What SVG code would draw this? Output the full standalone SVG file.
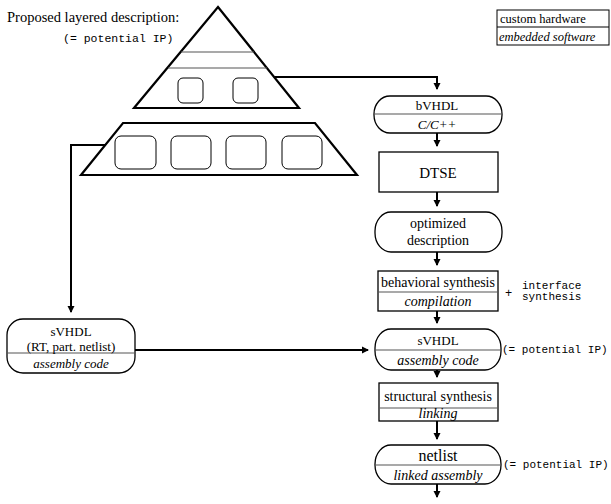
<svg xmlns="http://www.w3.org/2000/svg" width="611" height="504" viewBox="0 0 611 504">
<style>
  .bg{fill:#fff}
  .box{fill:#fff;stroke:#000;stroke-width:1.3}
  .thick{fill:#fff;stroke:#000;stroke-width:2.2;stroke-linejoin:miter}
  .div{stroke:#555;stroke-width:1.2;fill:none}
  .small{fill:#fff;stroke:#000;stroke-width:1}
  .con{fill:none;stroke:#000;stroke-width:2}
  .t{font-family:"Liberation Serif","Times New Roman",serif;font-size:14px;fill:#000;text-anchor:middle}
  .i{font-style:italic}
  .m{font-family:"Liberation Mono","Courier New",monospace;font-size:11px;fill:#000}
</style>
<defs>
  <marker id="ah" markerWidth="8" markerHeight="8" refX="6" refY="4" orient="auto" markerUnits="userSpaceOnUse">
    <path d="M0,0.5 L7,4 L0,7.5 z" fill="#000"/>
  </marker>
</defs>
<rect class="bg" x="0" y="0" width="611" height="504"/>

<g id="title">
  <text x="7" y="22" style="font-family:'Liberation Serif','Times New Roman',serif;font-size:14.5px">Proposed layered description:</text>
  <text class="m" x="63" y="42" style="font-size:11.5px">(= potential IP)</text>
</g>

<g id="legend">
  <rect class="box" x="497" y="10" width="112" height="35" style="stroke-width:1"/>
  <line class="div" x1="497" y1="27" x2="609" y2="27" style="stroke:#000;stroke-width:1"/>
  <text class="t" x="500" y="23" style="text-anchor:start;font-size:12.5px">custom hardware</text>
  <text class="t i" x="499" y="41" style="text-anchor:start;font-size:12.5px">embedded software</text>
</g>

<g id="connectors">
  <polyline class="con" points="275,77 437,77 437,89" marker-end="url(#ah)"/>
  <polyline class="con" points="105,145 71,145 71,312" marker-end="url(#ah)"/>
  <polyline class="con" points="135,350 368,350" marker-end="url(#ah)"/>
  <line class="con" x1="437" y1="133" x2="437" y2="146" marker-end="url(#ah)"/>
  <line class="con" x1="437" y1="192" x2="437" y2="206" marker-end="url(#ah)"/>
  <line class="con" x1="437" y1="252" x2="437" y2="265" marker-end="url(#ah)"/>
  <line class="con" x1="437" y1="311" x2="437" y2="323" marker-end="url(#ah)"/>
  <line class="con" x1="437" y1="370" x2="437" y2="377" marker-end="url(#ah)"/>
  <line class="con" x1="437" y1="421" x2="437" y2="439" marker-end="url(#ah)"/>
  <line class="con" x1="437" y1="484" x2="437" y2="497" marker-end="url(#ah)"/>
</g>

<g id="pyramid">
  <polygon class="thick" points="218,7 299,108 134,108"/>
  <line class="div" x1="181" y1="52" x2="254" y2="52"/>
  <line class="div" x1="168" y1="68" x2="267" y2="68"/>
  <rect class="small" x="178" y="78" width="25" height="25" rx="5"/>
  <rect class="small" x="233" y="78" width="25" height="25" rx="5"/>
</g>

<g id="trapezoid">
  <polygon class="thick" points="123,123 315,123 357,175 81,175"/>
  <rect class="small" x="115" y="136" width="41" height="33" rx="6"/>
  <rect class="small" x="171" y="136" width="40" height="33" rx="6"/>
  <rect class="small" x="226" y="136" width="40" height="33" rx="6"/>
  <rect class="small" x="282" y="136" width="40" height="33" rx="6"/>
</g>

<g id="sVHDL-left">
  <rect class="box" x="7" y="319" width="128" height="54" rx="16" ry="16"/>
  <line class="div" x1="7" y1="353" x2="135" y2="353"/>
  <text class="t" x="71" y="336" style="font-size:13px">sVHDL</text>
  <text class="t" x="71" y="351" style="font-size:13px">(RT, part. netlist)</text>
  <text class="t i" x="71" y="368" style="font-size:13px">assembly code</text>
</g>

<g id="bVHDL">
  <rect class="box" x="374" y="96" width="128" height="37" rx="16" ry="18"/>
  <line class="div" x1="374" y1="114" x2="502" y2="114"/>
  <text class="t" x="437" y="110" style="font-size:13px">bVHDL</text>
  <text class="t i" x="437" y="129" style="font-size:13px">C/C++</text>
</g>

<g id="DTSE">
  <rect class="box" x="379" y="152" width="119" height="40"/>
  <text class="t" x="438" y="178" style="font-size:15px">DTSE</text>
</g>

<g id="optimized">
  <rect class="box" x="375" y="212" width="127" height="40" rx="16" ry="19"/>
  <text class="t" x="438" y="228">optimized</text>
  <text class="t" x="438" y="245">description</text>
</g>

<g id="behavioral">
  <rect class="box" x="378" y="271" width="120" height="40"/>
  <line class="div" x1="378" y1="292" x2="498" y2="292"/>
  <text class="t" x="438" y="287">behavioral synthesis</text>
  <text class="t i" x="438" y="306">compilation</text>
  <text class="m" x="505" y="297" style="font-size:12px">+</text>
  <text class="m" x="522" y="289">interface</text>
  <text class="m" x="522" y="300">synthesis</text>
</g>

<g id="sVHDL-right">
  <rect class="box" x="375" y="329" width="126" height="41" rx="16" ry="19"/>
  <line class="div" x1="375" y1="350" x2="501" y2="350"/>
  <text class="t" x="438" y="345" style="font-size:13px">sVHDL</text>
  <text class="t i" x="438" y="365">assembly code</text>
  <text class="m" x="502" y="353">(= potential IP)</text>
</g>

<g id="structural">
  <rect class="box" x="379" y="383" width="119" height="38"/>
  <line class="div" x1="379" y1="408" x2="498" y2="408"/>
  <text class="t" x="438" y="401">structural synthesis</text>
  <text class="t i" x="438" y="418">linking</text>
</g>

<g id="netlist">
  <rect class="box" x="375" y="445" width="126" height="39" rx="16" ry="19"/>
  <line class="div" x1="375" y1="465" x2="501" y2="465"/>
  <text class="t" x="438" y="461" style="font-size:16px">netlist</text>
  <text class="t i" x="438" y="480">linked assembly</text>
  <text class="m" x="503" y="468">(= potential IP)</text>
</g>
</svg>
